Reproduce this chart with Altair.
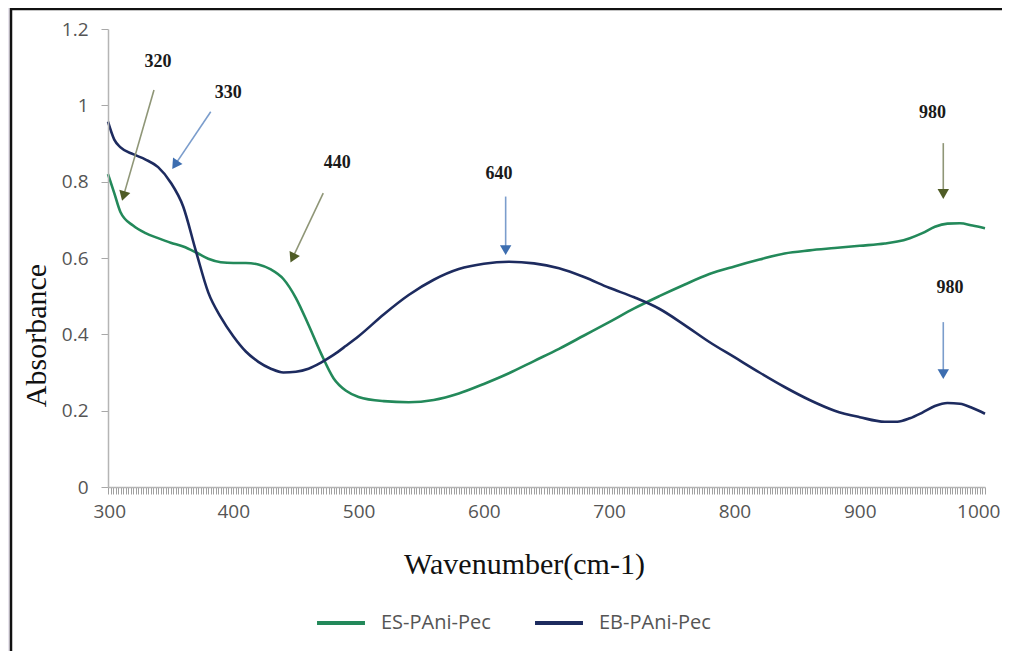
import math
import altair as alt
import numpy as np
import pandas as pd

# ---------------- data ----------------
wavenumber = [300, 305, 310, 320, 330, 340, 350, 360, 370, 380, 390, 400, 410, 420, 430,
              440, 450, 460, 470, 480, 490, 500, 520, 540, 560, 580, 600, 620, 640, 660,
              680, 700, 720, 740, 760, 780, 800, 820, 840, 860, 880, 900, 920, 930, 940,
              950, 960, 970, 980, 990, 1000]

es_pani_pec = [0.82, 0.77, 0.72, 0.685, 0.665, 0.652, 0.64, 0.63, 0.615, 0.598, 0.589, 0.587,
               0.587, 0.583, 0.570, 0.545, 0.495, 0.425, 0.35, 0.285, 0.252, 0.236, 0.225,
               0.222, 0.228, 0.245, 0.27, 0.298, 0.33, 0.362, 0.397, 0.432, 0.468, 0.50,
               0.53, 0.558, 0.578, 0.596, 0.612, 0.62, 0.626, 0.632, 0.638, 0.643, 0.652,
               0.665, 0.682, 0.69, 0.691, 0.685, 0.678]

eb_pani_pec = [0.957, 0.91, 0.89, 0.872, 0.858, 0.838, 0.798, 0.735, 0.62, 0.51, 0.445, 0.395,
               0.355, 0.328, 0.31, 0.30, 0.302, 0.31, 0.326, 0.346, 0.37, 0.395, 0.452, 0.503,
               0.543, 0.571, 0.585, 0.59, 0.586, 0.573, 0.55, 0.522, 0.497, 0.467, 0.425,
               0.38, 0.34, 0.30, 0.262, 0.228, 0.20, 0.183, 0.171, 0.171, 0.18, 0.195, 0.212,
               0.22, 0.218, 0.207, 0.192]

series_names = ["ES-PAni-Pec", "EB-PAni-Pec"]
series_colors = ["#23895a", "#1d2b5f"]

# annotations (label text, label position, arrow start, arrow tip)
ann_text = ["320", "330", "440", "640", "980", "980"]
ann_text_x = [340, 396, 483, 612, 958, 972]
ann_text_y = [1.113, 1.032, 0.849, 0.820, 0.980, 0.521]
arrow_x0 = [336.7, 382, 471.8, 617.4, 966.7, 966.7]
arrow_y0 = [1.040, 0.983, 0.770, 0.761, 0.901, 0.432]
arrow_x1 = [311, 350.8, 445.3, 617.4, 966.7, 966.7]
arrow_y1 = [0.747, 0.831, 0.586, 0.605, 0.752, 0.280]
arrow_line_color = ["#8f9677", "#7b9dcc", "#8f9677", "#7b9dcc", "#8f9677", "#7b9dcc"]
arrow_head_color = ["#4f5c26", "#3d6eb0", "#4f5c26", "#3d6eb0", "#4f5c26", "#3d6eb0"]

y_ticks = [0, 0.2, 0.4, 0.6, 0.8, 1.0, 1.2]

# ---------------- layout ----------------
W, H = 877, 458
X_MIN, X_MAX = 300, 1000
Y_MIN, Y_MAX = 0, 1.2
px_per_x = W / (X_MAX - X_MIN)
px_per_y = H / (Y_MAX - Y_MIN)

df = pd.DataFrame({"wn": wavenumber, "ES-PAni-Pec": es_pani_pec, "EB-PAni-Pec": eb_pani_pec})
long = df.melt("wn", var_name="series", value_name="abs")

# arrow geometry (heads slightly back from tip, rotated along the arrow)
head_back = 6.0
rows = []
for i in range(len(ann_text)):
    dx = (arrow_x1[i] - arrow_x0[i]) * px_per_x
    dy = -(arrow_y1[i] - arrow_y0[i]) * px_per_y  # screen y down
    L = math.hypot(dx, dy)
    ux, uy = dx / L, dy / L
    hx = arrow_x1[i] - ux * head_back / px_per_x
    hy = arrow_y1[i] + uy * head_back / px_per_y
    ang = (math.degrees(math.atan2(dx, -dy)) + 360) % 360
    rows.append(dict(text=ann_text[i], tx=ann_text_x[i], ty=ann_text_y[i],
                     x0=arrow_x0[i], y0=arrow_y0[i], hx=hx, hy=hy, ang=ang,
                     lc=arrow_line_color[i], hc=arrow_head_color[i]))
ann = pd.DataFrame(rows)

xscale = alt.Scale(domain=[X_MIN, X_MAX], nice=False, zero=False)
yscale = alt.Scale(domain=[Y_MIN, Y_MAX], nice=False)

x_tick_vals = list(range(300, 1001, 2))

x_axis = alt.Axis(
    values=x_tick_vals, tickCount=1000,
    labelExpr="datum.value % 100 === 0 ? format(datum.value, 'd') : ''",
    labelOverlap=False, labelFlush=True, labelFlushOffset=15,
    labelFont="Open Sans", labelFontSize=19, labelColor="#555555",
    labelPadding=8, tickSize=7, tickColor="#a0a0a0", tickWidth=1,
    domainColor="#b5b5b5", domainWidth=1.5, grid=False,
    title="Wavenumber(cm-1)", titleFont="Liberation Serif", titleFontSize=30,
    titleFontWeight="normal", titleColor="#111111",
    titleX=416, titleY=86, titleAlign="center",
    titleBaseline="alphabetic", zindex=1,
)
y_axis = alt.Axis(
    values=y_ticks, format="~g",
    labelFont="Open Sans", labelFontSize=19, labelColor="#555555",
    labelPadding=13, tickSize=7, tickColor="#a8a8a8",
    domainColor="#b5b5b5", domainWidth=1.5, grid=False,
    title="Absorbance", titleFont="Liberation Serif", titleFontSize=30,
    titleFontWeight="normal", titleColor="#111111",
    titleAngle=270, titleX=-63, titleY=306, titleAlign="center",
    titleBaseline="alphabetic", zindex=1,
)

frame = alt.Chart(pd.DataFrame({"k": [0]})).mark_rect(
    fill="white", stroke="#111111", strokeWidth=2.5
).encode(
    x=alt.value(-97), x2=alt.value(W + 60), y=alt.value(-20), y2=alt.value(H + 200)
)

lines = alt.Chart(long).mark_line(strokeWidth=2.6, interpolate="monotone").encode(
    x=alt.X("wn:Q", scale=xscale, axis=x_axis),
    y=alt.Y("abs:Q", scale=yscale, axis=y_axis),
    color=alt.Color(
        "series:N",
        scale=alt.Scale(domain=series_names, range=series_colors),
        sort=series_names,
        legend=alt.Legend(
            title=None, orient="none", direction="horizontal",
            legendX=207, legendY=568,
            symbolType="stroke", symbolSize=2300, symbolStrokeWidth=4,
            labelFont="Open Sans", labelFontSize=20, labelColor="#555555",
            labelOffset=14, columnPadding=36, zindex=1,
        ),
    ),
    detail="series:N",
)

arrow_lines = alt.Chart(ann).mark_rule(strokeWidth=1.6).encode(
    x=alt.X("x0:Q", scale=xscale), y=alt.Y("y0:Q", scale=yscale),
    x2="hx:Q", y2="hy:Q",
    color=alt.Color("lc:N", scale=None),
)
arrow_heads = alt.Chart(ann).mark_point(shape="triangle-up", filled=True, size=130, opacity=1).encode(
    x=alt.X("hx:Q", scale=xscale), y=alt.Y("hy:Q", scale=yscale),
    angle=alt.Angle("ang:Q", scale=None),
    color=alt.Color("hc:N", scale=None),
)
labels = alt.Chart(ann).mark_text(
    font="Liberation Serif", fontSize=18, fontWeight="bold", color="#1a1a1a"
).encode(
    x=alt.X("tx:Q", scale=xscale), y=alt.Y("ty:Q", scale=yscale), text="text:N"
)

chart = alt.layer(frame, lines, arrow_lines, arrow_heads, labels).properties(
    width=W, height=H, autosize="none",
    padding={"left": 100, "top": 21, "right": 17, "bottom": 164},
    background="#e8e4ed",
).configure_view(strokeWidth=0)

chart.save("out.html", embed_options={"renderer": "svg", "actions": False})
